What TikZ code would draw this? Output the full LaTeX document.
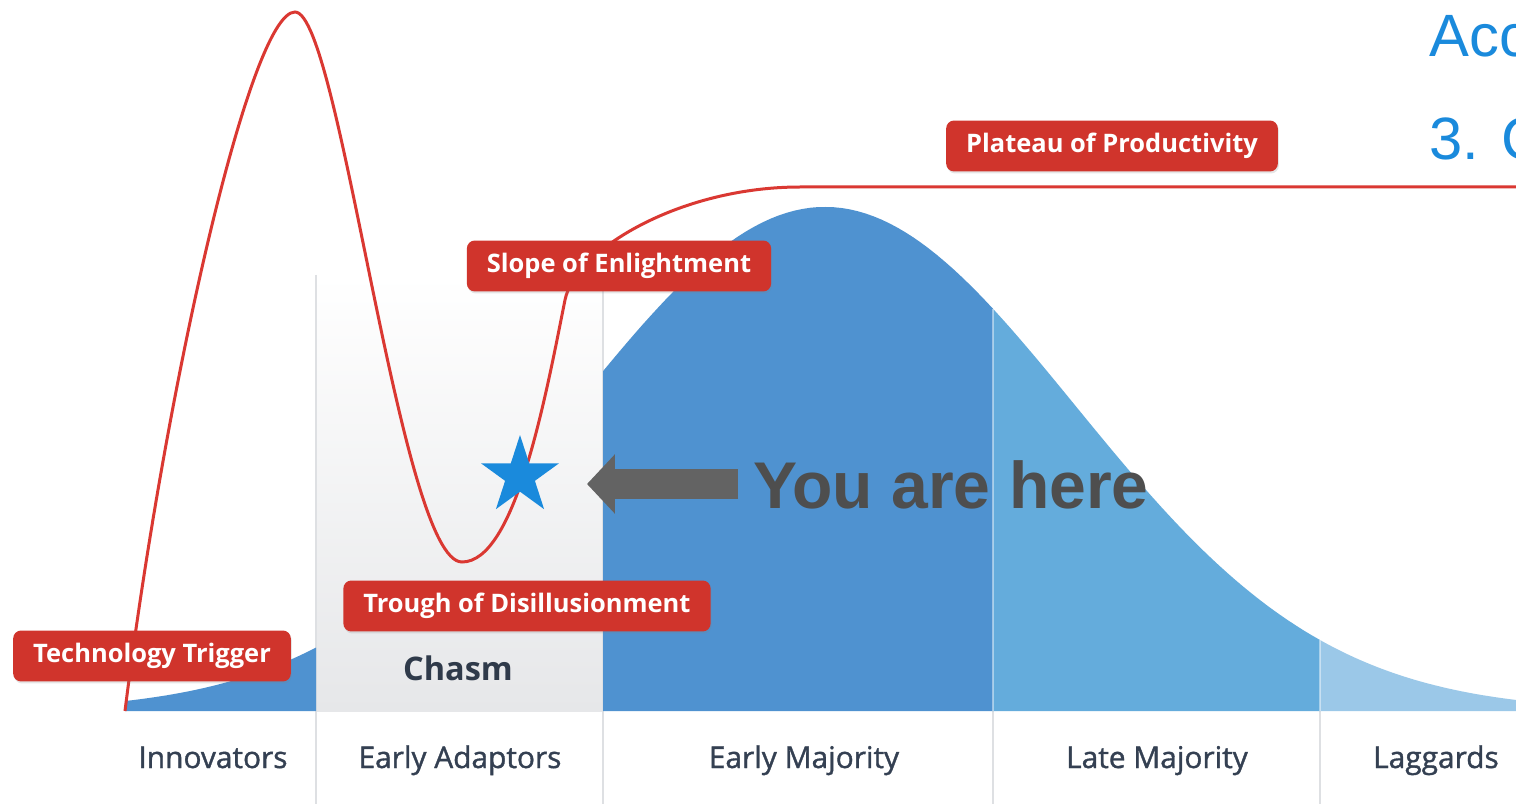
\documentclass[tikz,border=0pt]{standalone}
\usepackage{fontspec}
\setmainfont{Open Sans}
\newfontfamily\arialfont{Liberation Sans}
\newfontfamily\groupfont[FakeBold=1.2]{Open Sans}
\usetikzlibrary{positioning,shapes.geometric,arrows.meta,shadows}
\definecolor{hypered}{RGB}{208,52,44}
\definecolor{curvered}{RGB}{218,56,50}
\definecolor{bluedark}{RGB}{79,146,208}
\definecolor{bluemid}{RGB}{100,172,220}
\definecolor{bluelight}{RGB}{155,200,232}
\definecolor{starblue}{RGB}{26,138,220}
\definecolor{arrowgray}{RGB}{99,99,99}
\definecolor{heregray}{RGB}{78,78,78}
\definecolor{slate}{RGB}{52,64,82}
\definecolor{chasmgray}{RGB}{230,231,233}
\definecolor{sepgray}{RGB}{222,224,227}
% adoption bell curve, in pixel units
\newcommand*\bell[1]{711-504*exp(-0.5*((#1-825)/250)^2)}

\begin{document}
\begin{tikzpicture}[
      x=0.02cm, y=-0.02cm,
      phase/.style={fill=hypered, text=white, font=\bfseries\fontsize{14.5}{16}\selectfont,
        rounded corners=0.16cm, minimum height=1.02cm, inner xsep=0.4cm,
        text height=0.36cm, text depth=0.1cm,
        drop shadow={opacity=0.2, shadow xshift=0.02cm, shadow yshift=-0.04cm}},
      group/.style={text=slate, font=\groupfont\fontsize{17}{20}\selectfont, anchor=base},
      sep/.style={sepgray, line width=0.03cm},
      bluesep/.style={white, opacity=0.45, line width=0.04cm},
      hype/.style={curvered, line width=0.06cm},
      herearrow/.style={arrowgray, line width=0.6cm, -{Triangle[length=0.56cm, width=1.16cm]}},
      topline/.style={anchor=base west, inner sep=0, text=starblue, font=\arialfont\fontsize{34}{38}\selectfont},
    ]
      \useasboundingbox[fill=white] (0,0) rectangle (1516,804);

      % chasm
      \shade[top color=white, bottom color=chasmgray] (316,275) rectangle (603,711);
      \foreach \sx/\sy in {316/275, 603/275, 993/711, 1320/711}
        \draw[sep] (\sx,\sy) -- (\sx,804);

      % adopter groups
      \fill[bluedark] (125,711) -- plot[domain=125:316, samples=25] (\x,{\bell{\x}}) -- (316,711) -- cycle;
      \fill[bluedark] (603,711) -- plot[domain=603:993, samples=50] (\x,{\bell{\x}}) -- (993,711) -- cycle;
      \fill[bluemid] (993,711) -- plot[domain=993:1320, samples=40] (\x,{\bell{\x}}) -- (1320,711) -- cycle;
      \fill[bluelight] (1320,711) -- plot[domain=1320:1516, samples=30] (\x,{\bell{\x}}) -- (1516,711) -- cycle;
      \draw[bluesep] (993,{\bell{993}}) -- (993,711);
      \draw[bluesep] (1320,{\bell{1320}}) -- (1320,711);

      % hype cycle
      \draw[hype] (125,711) .. controls (165,390) and (250,12) .. (295,12)
        .. controls (340,12) and (400,562) .. (462,562)
        .. controls (515,562) and (545,400) .. (565,300)
        .. controls (575,250) and (680,187) .. (800,187) -- (1520,187);

      \node[phase] (trigger) at (152,656) {Technology Trigger};
      \node[phase] (trough) at (527,606) {Trough of Disillusionment};
      \node[phase] (slope) at (619,266) {Slope of Enlightment};
      \node[phase] (plateau) at (1112,146) {Plateau of Productivity};

      \node[group, font=\bfseries\fontsize{18.5}{20}\selectfont, text=slate!90!black] (chasm) at (458,680) {Chasm};
      \node[group] (innov) at (213,768) {Innovators};
      \node[group] (adopt) at (460,768) {Early Adaptors};
      \node[group] (early) at (804,768) {Early Majority};
      \node[group] (late) at (1157,768) {Late Majority};
      \node[group] (lag) at (1436,768) {Laggards};

      % marker
      \node[star, star points=5, star point ratio=2.618, fill=starblue, inner sep=0, minimum size=1.64cm] (star) at (520,476) {};
      \node[anchor=base west, inner sep=0, text=heregray, font=\arialfont\bfseries\fontsize{37.6}{40}\selectfont] (here) at (753,508) {You are here};
      \coordinate (tail) at (738,484);
      \coordinate (tip) at (587,484);
      \draw[herearrow] (tail) -- (tip);

      \node[topline] (acc) at (1429,57) {Acc};
      \node[topline] (item) at (1429,160) {3. C};
\end{tikzpicture}
\end{document}
